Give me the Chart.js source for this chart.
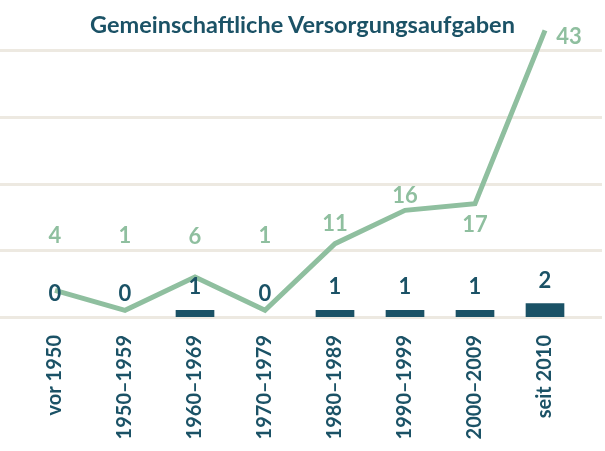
<!DOCTYPE html>
<html>
<head>
<meta charset="utf-8">
<script src="https://cdn.jsdelivr.net/npm/chart.js@4"></script>
<style>
  html, body { margin: 0; padding: 0; background: #ffffff; }
  #wrap { position: relative; width: 605px; height: 451px; }
  #title { position: absolute; left: 0; width: 605px; top: 9px; text-align: center;
           font-family: Lato, "Open Sans", sans-serif; font-weight: 700; font-size: 23.5px;
           color: #1b5266; line-height: 30px; margin: 0; }
  canvas { position: absolute; left: 0; top: 0; }
</style>
</head>
<body>
<div id="wrap">
  <canvas id="c" width="605" height="451"></canvas>
  <h1 id="title">Gemeinschaftliche Versorgungsaufgaben</h1>
</div>
<script>
const categories = ["vor 1950", "1950–1959", "1960–1969", "1970–1979", "1980–1989", "1990–1999", "2000–2009", "seit 2010"];
const lineValues = [4, 1, 6, 1, 11, 16, 17, 43];
const barValues = [0, 0, 1, 0, 1, 1, 1, 2];
const gridValues = [0, 10, 20, 30, 40];

const TEAL = "#1b5266";
const GREEN = "#8fbf9f";
const GRID = "#ede9e1";
const FONT = "Lato, 'Open Sans', sans-serif";

// label placement relative to each line point (style, not data)
const lineLabelOffsets = [[0,-54],[0,-74],[0,-40],[0,-74],[0,-20],[0,-14],[0,21],[24,7]];

const gridPlugin = {
  id: "fullGrid",
  beforeDatasetsDraw(chart) {
    const ctx = chart.ctx, y = chart.scales.y;
    ctx.save();
    ctx.strokeStyle = GRID;
    ctx.lineWidth = 3;
    gridValues.forEach(v => {
      const py = Math.round(y.getPixelForValue(v)) + 0.5;
      ctx.beginPath();
      ctx.moveTo(0, py);
      ctx.lineTo(602, py);
      ctx.stroke();
    });
    ctx.restore();
  }
};

const labelPlugin = {
  id: "valueLabels",
  afterDatasetsDraw(chart) {
    const ctx = chart.ctx;
    ctx.save();
    ctx.font = "700 22px " + FONT;
    ctx.textAlign = "center";
    ctx.textBaseline = "middle";
    const lineMeta = chart.getDatasetMeta(1);
    ctx.fillStyle = GREEN;
    lineMeta.data.forEach((pt, i) => {
      const o = lineLabelOffsets[i];
      ctx.fillText(String(lineValues[i]), pt.x + o[0], pt.y + o[1]);
    });
    const barMeta = chart.getDatasetMeta(0);
    ctx.fillStyle = TEAL;
    barMeta.data.forEach((bar, i) => {
      ctx.fillText(String(barValues[i]), bar.x, bar.y - 23);
    });
    ctx.restore();
  }
};

new Chart(document.getElementById("c"), {
  data: {
    labels: categories,
    datasets: [
      {
        type: "bar",
        data: barValues,
        backgroundColor: (c) => (c.raw === 0 ? "rgba(0,0,0,0)" : TEAL),
        borderWidth: 0,
        barThickness: 38,
        order: 2
      },
      {
        type: "line",
        data: lineValues,
        borderColor: GREEN,
        borderWidth: 5,
        pointRadius: 0,
        tension: 0,
        borderJoinStyle: "miter",
        order: 1
      }
    ]
  },
  options: {
    responsive: false,
    animation: false,
    layout: { padding: { left: 20, right: 25, top: 17, bottom: 0 } },
    plugins: { legend: { display: false }, tooltip: { enabled: false }, title: { display: false } },
    scales: {
      x: {
        offset: true,
        grid: { display: false, drawTicks: false },
        border: { display: false },
        ticks: {
          minRotation: 90, maxRotation: 90, padding: 18,
          color: TEAL,
          font: { family: FONT, weight: "700", size: 20 }
        },
        afterFit(scale) { scale.height = 134; }
      },
      y: {
        display: false,
        min: 0,
        max: 45
      }
    }
  },
  plugins: [gridPlugin, labelPlugin]
});
</script>
</body>
</html>
